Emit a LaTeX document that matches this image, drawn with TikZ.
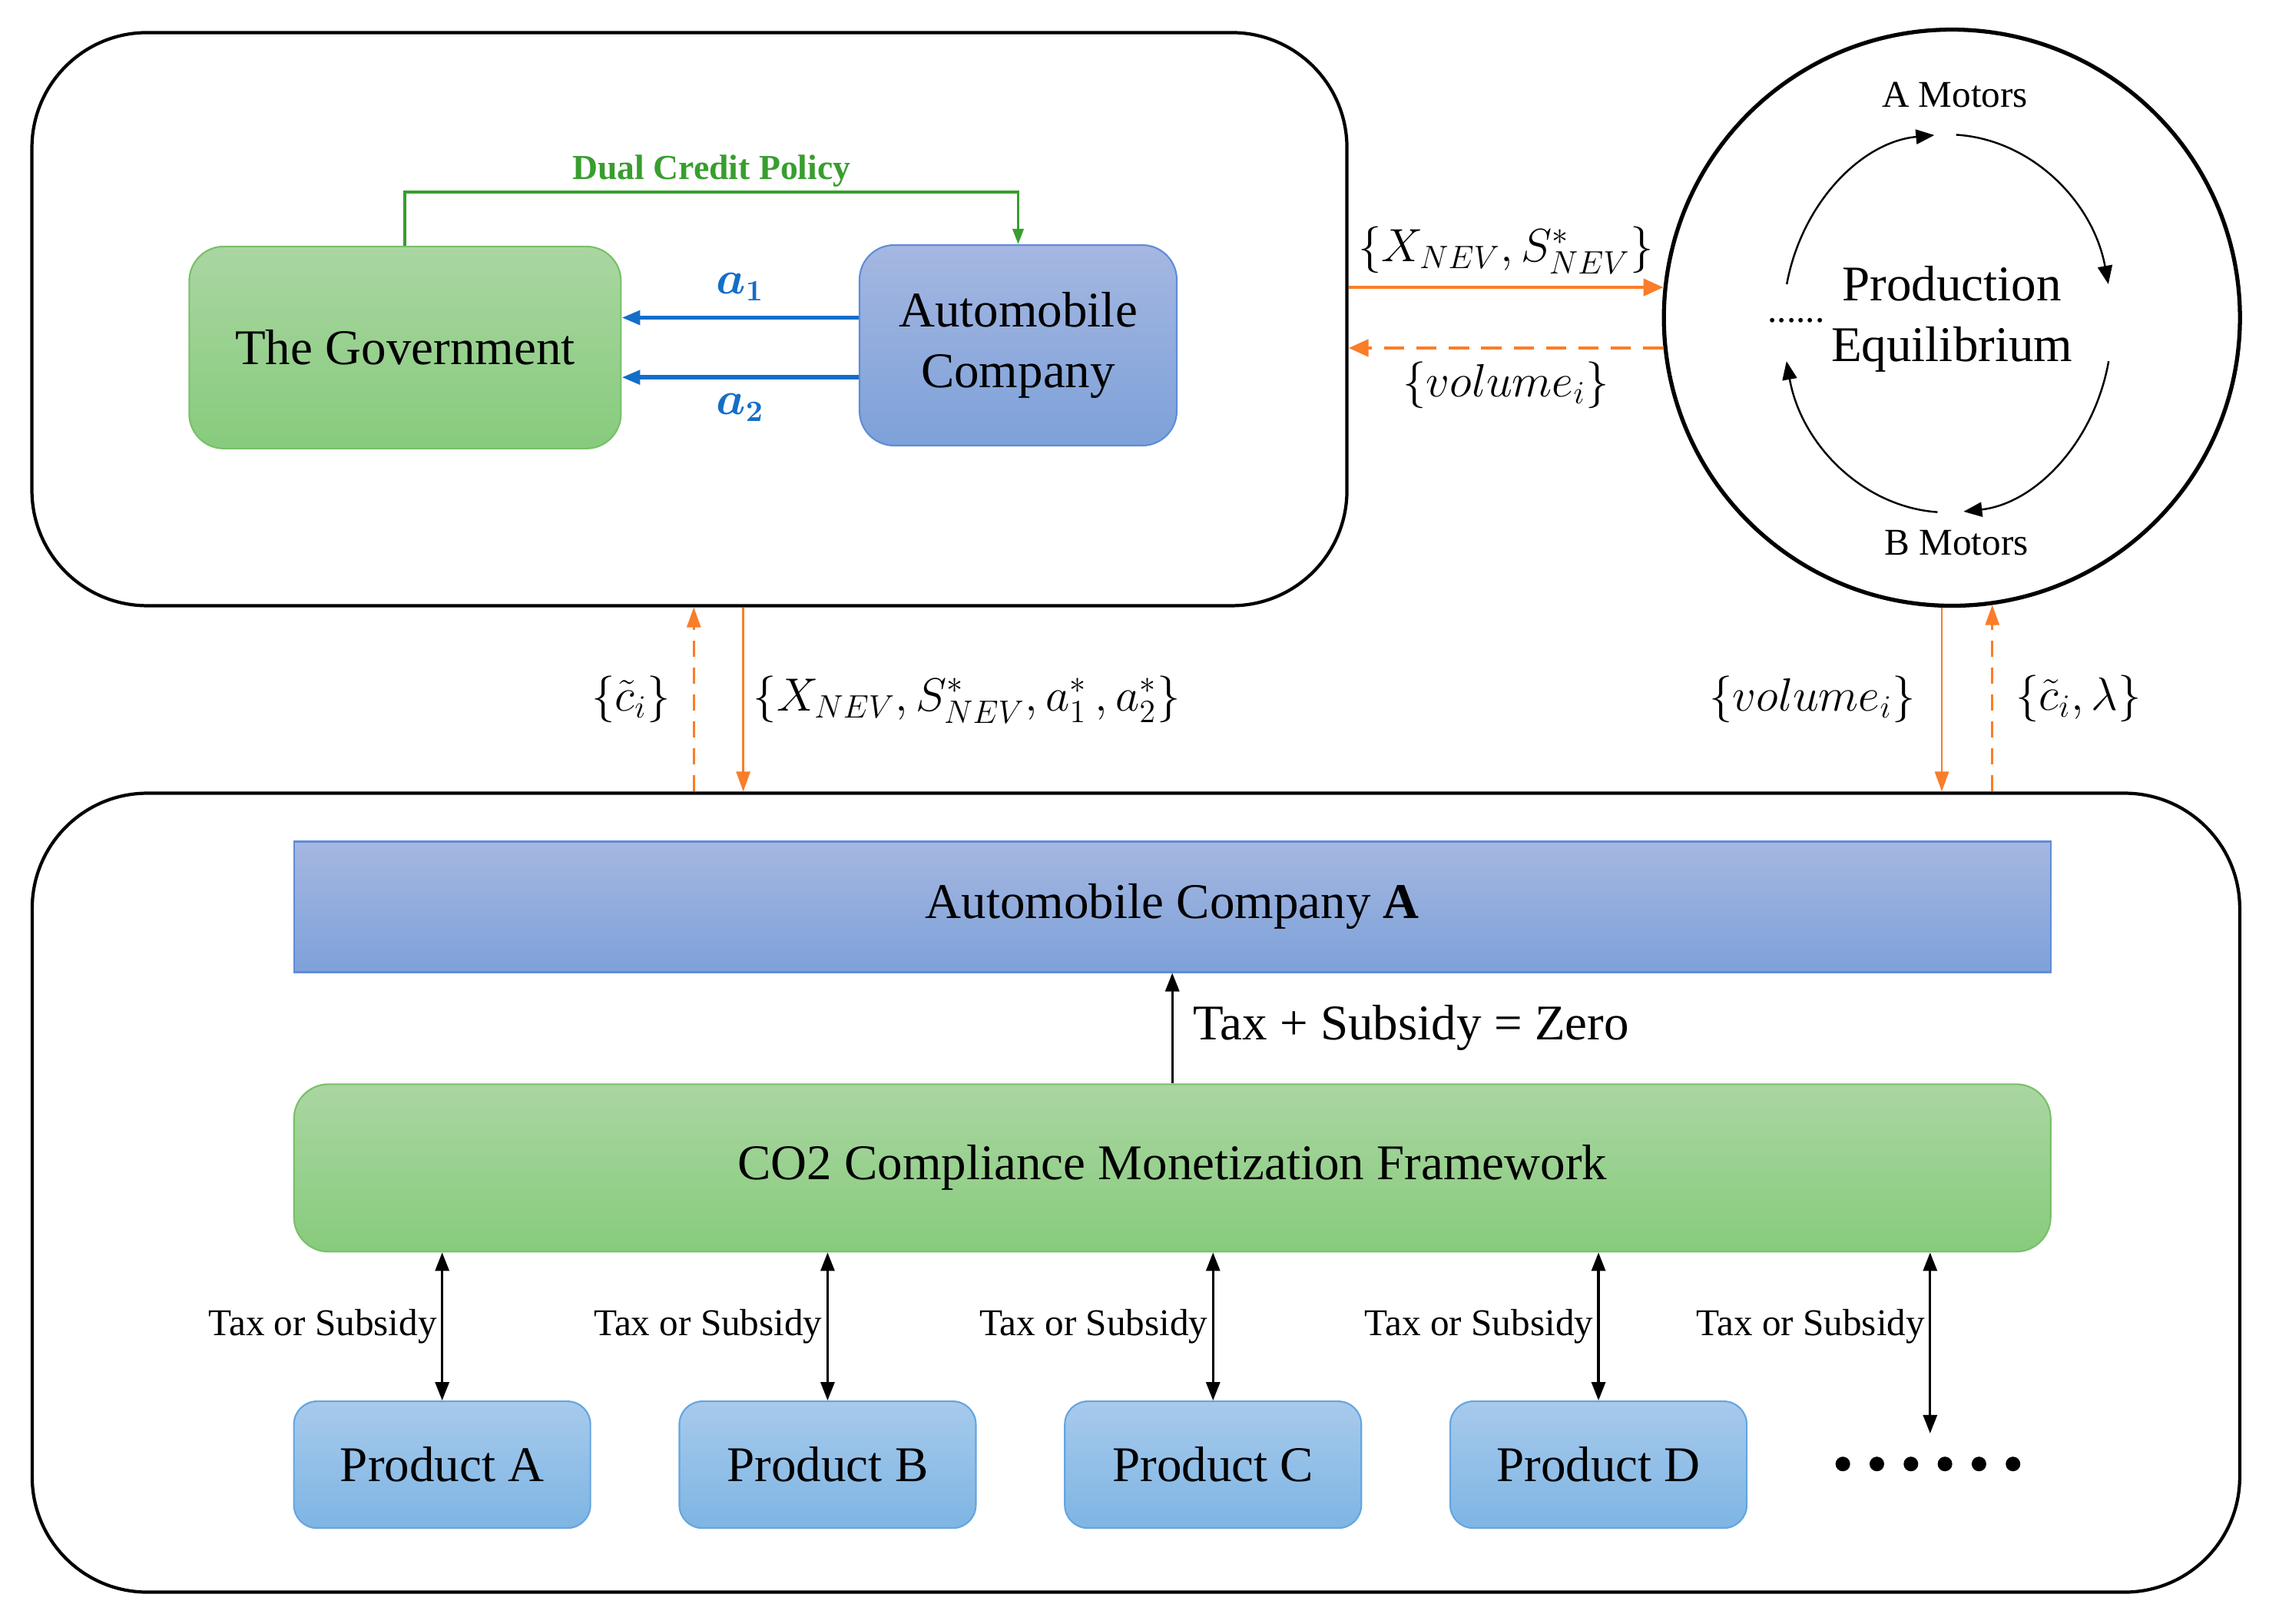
\documentclass[tikz,border=0pt]{standalone}
\usepackage{fontspec}
\setmainfont{Liberation Serif}
\usepackage{amsmath}
\usepackage{bm}
\usetikzlibrary{arrows.meta}
\tikzset{>={Triangle[length=2.4mm,width=1.8mm]}}

\definecolor{gtop}{RGB}{170,214,161}
\definecolor{gbot}{RGB}{135,203,125}
\definecolor{gline}{RGB}{120,192,105}
\definecolor{btop}{RGB}{165,183,225}
\definecolor{bbot}{RGB}{125,161,217}
\definecolor{bline}{RGB}{95,140,215}
\definecolor{ptop}{RGB}{167,202,236}
\definecolor{pbot}{RGB}{126,181,227}
\definecolor{pline}{RGB}{100,165,225}
\definecolor{dcgreen}{RGB}{56,158,46}
\definecolor{ablue}{RGB}{20,110,200}
\definecolor{dorange}{RGB}{250,125,40}

\newcommand\largetxt{\fontsize{18.5}{22.6}\selectfont}
\newcommand\smalltxt{\fontsize{14}{16}\selectfont}

\tikzset{
  frame/.style={draw, line width=1.2pt, rounded corners=1.5cm},
  greenbox/.style={draw=gline, line width=0.6pt, top color=gtop, bottom color=gbot, rounded corners=0.45cm, font=\largetxt},
  bluebox/.style={draw=bline, line width=0.6pt, top color=btop, bottom color=bbot, rounded corners=0.45cm, font=\largetxt},
  prodbox/.style={draw=pline, line width=0.6pt, top color=ptop, bottom color=pbot, rounded corners=0.3cm, font=\largetxt, minimum width=3.86cm, minimum height=1.65cm},
  oline/.style={draw=dorange, line width=1.3pt, -{Triangle[length=2.6mm,width=2.2mm]}},
  vline/.style={draw=dorange, line width=0.8pt, -{Triangle[length=2.6mm,width=1.8mm]}},
  kline/.style={line width=0.9pt},
  cycarc/.style={line width=0.7pt, -{Triangle[length=2.4mm,width=1.9mm]}}
}

\begin{document}
\begin{tikzpicture}[x=0.018936cm, y=0.018936cm]
  \useasboundingbox (0,0) rectangle (1560,1116.4);

  % frames
  \node[frame, minimum width=17.12cm, minimum height=7.46cm] (upper) at (474,897) {};
  \node[frame, minimum width=28.74cm, minimum height=10.40cm] (lower) at (781,296.5) {};
  \node[draw, circle, line width=1.5pt, minimum size=7.5cm] (equil) at (1342,898) {};

  % government and company
  \node[greenbox, minimum width=5.62cm, minimum height=2.63cm] (gov) at (278.5,877.5) {The Government};
  \node[bluebox, minimum width=4.13cm, minimum height=2.61cm, align=center] (auto) at (700,879) {Automobile\\Company};

  % dual credit policy
  \draw[dcgreen, line width=1.1pt, ->, >={Triangle[length=2mm,width=1.4mm]}] (gov.north) -- ++(0,37) -| (auto.north)
    node[pos=0.25, above=-2pt, font=\fontsize{13}{15}\selectfont\bfseries] {Dual Credit Policy};

  % decisions
  \draw[ablue, line width=1.6pt, ->] (auto.west |- 0,898) -- (gov.east |- 0,898)
    node[midway, above=2pt, font=\fontsize{16}{18}\selectfont] {$\bm{a_1}$};
  \draw[ablue, line width=1.6pt, ->] (auto.west |- 0,857) -- (gov.east |- 0,857)
    node[midway, below=2pt, font=\fontsize{16}{18}\selectfont] {$\bm{a_2}$};

  % exchange with the equilibrium
  \draw[oline] (upper.east |- equil.174) -- (equil.174)
    node[midway, above=1pt, font=\largetxt] {$\{X_{NEV},S^*_{NEV}\}$};
  \draw[oline, dash pattern=on 7.5pt off 4.5pt] (equil.186) -- (upper.east |- equil.186)
    node[midway, below=1pt, font=\largetxt] {$\{volume_i\}$};

  % between the levels
  \draw[vline, dash pattern=on 6pt off 4pt] (lower.north -| 477,0) -- (upper.south -| 477,0)
    node[midway, left=5pt, font=\largetxt] {$\{\tilde{c}_i\}$};
  \draw[vline] (upper.south -| 511,0) -- (lower.north -| 511,0)
    node[midway, right=0pt, font=\largetxt] {$\{X_{NEV},S^*_{NEV},a_1^*\,,a_2^*\}$};
  \draw[vline] (equil.268) -- (lower.north -| equil.268)
    node[midway, left=6pt, font=\largetxt] {$\{volume_i\}$};
  \draw[vline, dash pattern=on 6pt off 4pt] (lower.north -| equil.278) -- (equil.278)
    node[midway, right=5pt, font=\largetxt] {$\{\tilde{c}_i,\lambda\}$};

  % inside the circle
  \node[font=\smalltxt] (amot) at (1344,1051) {A Motors};
  \node[font=\smalltxt] (bmot) at (1345,743) {B Motors};
  \node[font=\largetxt, align=center] (peq) at (1342,897) {Production\\Equilibrium};
  \node[font=\smalltxt, anchor=base] (ldots) at (1235,895) {......};
  \coordinate (cyc) at (1339,894);
  \draw[cycarc] (cyc) ++(168:2.14cm and 2.46cm) arc[start angle=168, end angle=94.6, x radius=2.14cm, y radius=2.46cm];
  \draw[cycarc] (cyc) ++(87:2.14cm and 2.46cm) arc[start angle=87, end angle=12, x radius=2.14cm, y radius=2.46cm];
  \draw[cycarc] (cyc) ++(-11.5:2.14cm and 2.46cm) arc[start angle=-11.5, end angle=-84.4, x radius=2.14cm, y radius=2.46cm];
  \draw[cycarc] (cyc) ++(-93.5:2.14cm and 2.46cm) arc[start angle=-93.5, end angle=-168.5, x radius=2.14cm, y radius=2.46cm];

  % company A and the framework
  \node[bluebox, rounded corners=0pt, minimum width=22.87cm, minimum height=1.70cm] (coA) at (806,493) {Automobile Company \textbf{A}};
  \node[greenbox, minimum width=22.87cm, minimum height=2.18cm] (frame) at (806,313.5) {CO2 Compliance Monetization Framework};
  \draw[kline, ->] (frame.north) -- (coA.south)
    node[midway, right=4pt, font=\largetxt] {Tax + Subsidy = Zero};

  % products
  \foreach \n/\x in {A/304, B/569, C/834, D/1099} {
    \node[prodbox] (prod\n) at (\x,109.5) {Product \n};
    \draw[kline, <->] (frame.south -| prod\n) -- (prod\n)
      node[midway, left, inner sep=1.5pt, font=\smalltxt] {Tax or Subsidy};
  }
  \coordinate (more) at (1327,131);
  \draw[kline, <->] (frame.south -| more) -- (more)
    node[pos=0.41, left, inner sep=1.5pt, font=\smalltxt] {Tax or Subsidy};
  \foreach \i in {0,...,5}
    \fill (1267+\i*23.4,110) circle (0.095cm);
\end{tikzpicture}
\end{document}
